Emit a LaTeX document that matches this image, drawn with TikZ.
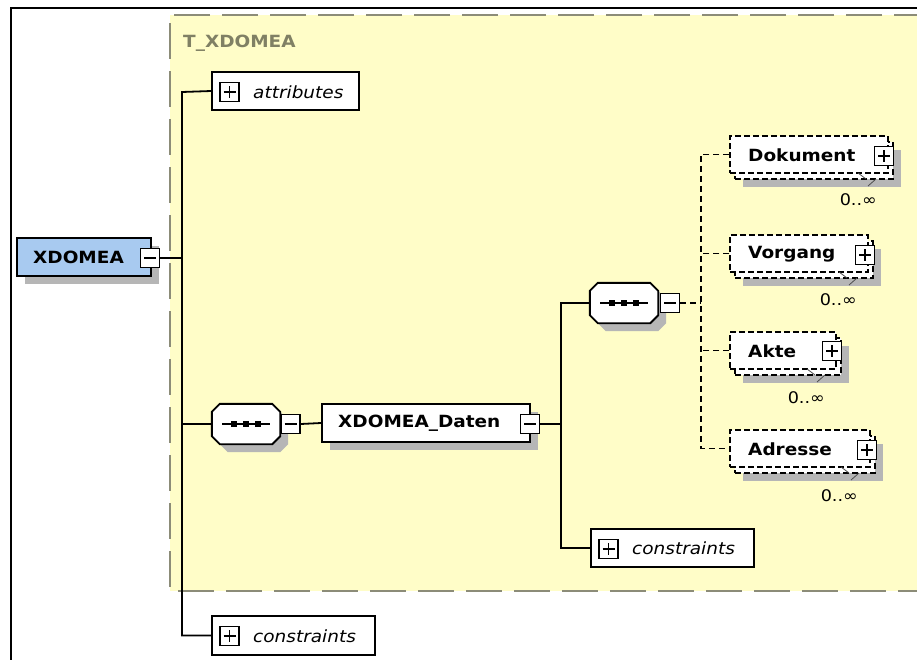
\documentclass[tikz,border=0pt]{standalone}
\usepackage{fontspec}
\newfontfamily\lab[FakeStretch=1.1]{DejaVu Sans}
\usetikzlibrary{calc,shadows}
\definecolor{rootblue}{RGB}{168,202,240}
\definecolor{paleyellow}{RGB}{255,253,200}
\definecolor{typegray}{RGB}{128,128,100}
\definecolor{shadowgray}{RGB}{182,182,182}
\definecolor{bordergray}{RGB}{140,140,120}
\tikzset{
  box/.style={draw, line width=1.9pt, fill=white, inner sep=0pt},
  shad/.style={drop shadow={shadow xshift=8pt, shadow yshift=-8pt, fill=shadowgray, opacity=1}},
  pm/.style={draw, line width=1.4pt, fill=white, minimum width=19pt, minimum height=19pt, inner sep=0pt},
  conn/.style={line width=1.8pt},
  dconn/.style={line width=1.5pt, dash pattern=on 6pt off 4pt},
  elbox/.style={draw, line width=1.5pt, dash pattern=on 6pt off 3pt, fill=white, inner sep=0pt},
  blbl/.style={font=\lab\fontsize{16.8}{20}\selectfont\bfseries, inner sep=0pt, anchor=west},
  ilbl/.style={font=\lab\fontsize{16.8}{20}\selectfont\itshape, inner sep=0pt, anchor=west},
  occ/.style={font=\lab\fontsize{16}{19}\selectfont, inner sep=0pt, anchor=east},
  ghost/.style={inner sep=0pt, draw=none}
}
\newcommand\plusmark[1]{\draw[line width=1.4pt] ($(#1.center)+(-6,0)$) -- ($(#1.center)+(6,0)$) ($(#1.center)+(0,-6)$) -- ($(#1.center)+(0,6)$);}
\newcommand\minusmark[1]{\draw[line width=1.4pt] ($(#1.center)+(-6,0)$) -- ($(#1.center)+(6,0)$);}
\newcommand\octo[1]{\draw[line width=1.9pt, fill=white, shad] ($(#1.north west)+(8,0)$) -- ($(#1.north east)+(-8,0)$) -- ($(#1.north east)+(0,8)$) -- ($(#1.south east)+(0,-8)$) -- ($(#1.south east)+(-8,0)$) -- ($(#1.south west)+(8,0)$) -- ($(#1.south west)+(0,-8)$) -- ($(#1.north west)+(0,8)$) -- cycle;
  \draw[line width=1.5pt] ($(#1.center)+(-24,0)$) -- ($(#1.center)+(24,0)$);
  \foreach \dx in {-12,0,12} {\fill ($(#1.center)+(\dx-3,-3)$) rectangle ($(#1.center)+(\dx+3,3)$);}}
\newcommand\occtick[2]{\draw[line width=0.8pt, black!70] (#1-16,#2) -- (#1-8,#2+6) (#1-6,#2+13) -- (#1+2,#2+6);}
\begin{document}
\begin{tikzpicture}[x=1pt,y=-1pt]
\useasboundingbox (0,0) rectangle (917,659);
\fill[white] (0,0) rectangle (917,659);
% outer frame
\draw[line width=2.5pt] (11,670) -- (11,8) -- (930,8);
% type region
\fill[paleyellow] (170,15) rectangle (930,591);
\draw[bordergray, line width=2pt, dash pattern=on 36pt off 12pt] (930,15) -- (170,15) -- (170,591) -- (930,591);
\node[blbl, text=typegray] (tname) at (183,43) {T\_XDOMEA};

% root element
\node[box, fill=rootblue, shad, minimum width=134pt, minimum height=38pt] (xd) at (84,257) {};
\node[blbl] (xdT) at (33,257) {XDOMEA};
\node[pm] (xdM) at (150,258) {};
\minusmark{xdM}

% attributes
\node[box, minimum width=147pt, minimum height=38pt] (attr) at (285.5,91) {};
\node[pm] (attrP) at (229.5,92) {};
\plusmark{attrP}
\node[ilbl] (attrT) at (253,92) {attributes};

% constraints (outer)
\node[box, minimum width=163pt, minimum height=39pt] (cons1) at (293.5,635.5) {};
\node[pm] (cons1P) at (229.5,636) {};
\plusmark{cons1P}
\node[ilbl] (cons1T) at (253,636) {constraints};

% sequence 1
\node[ghost, minimum width=68pt, minimum height=40pt] (s1) at (246,424) {};
\octo{s1}
\node[pm] (s1M) at (290.5,424) {};
\minusmark{s1M}

% XDOMEA_Daten
\node[box, shad, minimum width=208pt, minimum height=38pt] (dat) at (426,423) {};
\node[blbl] (datT) at (338,423) {XDOMEA\_Daten};
\node[pm] (datM) at (530,424) {};
\minusmark{datM}

% trunk connectors
\coordinate (tA) at (182,92);
\draw[conn] (xdM.east) -- (xdM.east -| tA);
\draw[conn] (attr.west) -- (tA) -- (tA |- cons1.west) -- (cons1.west);
\draw[conn] (s1.west) -- (s1.west -| tA);
\draw[conn] (s1M.east) -- (dat.west);

% sequence 2
\node[ghost, minimum width=68pt, minimum height=40pt] (s2) at (624,303) {};
\octo{s2}
\node[pm] (s2M) at (670,303) {};
\minusmark{s2M}

% constraints (inner)
\node[box, minimum width=163pt, minimum height=38pt] (cons2) at (672.5,548) {};
\node[pm] (cons2P) at (608.5,549) {};
\plusmark{cons2P}
\node[ilbl] (cons2T) at (632,548) {constraints};

\coordinate (tB) at (561,303);
\draw[conn] (datM.east) -- (datM.east -| tB);
\draw[conn] (s2.west) -- (tB) -- (tB |- cons2.west) -- (cons2.west);

% elements
% Dokument
\node[elbox, shad, minimum width=158pt, minimum height=37pt] (dokB) at (814,160.5) {};
\node[elbox, minimum width=158pt, minimum height=37pt] (dok) at (809,154.5) {};
\node[blbl] (dokT) at (748,155) {Dokument};
\node[pm] (dokP) at (884,156) {};
\plusmark{dokP}
\occtick{874}{173}
\node[occ] (dokO) at (877,200) {0..∞};
% Vorgang
\node[elbox, shad, minimum width=138pt, minimum height=37pt] (vorB) at (804,259.5) {};
\node[elbox, minimum width=138pt, minimum height=37pt] (vor) at (799,253.5) {};
\node[blbl] (vorT) at (748,254) {Vorgang};
\node[pm] (vorP) at (865,255) {};
\plusmark{vorP}
\occtick{855}{272}
\node[occ] (vorO) at (857,300) {0..∞};
% Akte
\node[elbox, shad, minimum width=106pt, minimum height=37pt] (akB) at (788,356.5) {};
\node[elbox, minimum width=106pt, minimum height=37pt] (ak) at (783,350.5) {};
\node[blbl] (akT) at (748,351) {Akte};
\node[pm] (akP) at (832,351) {};
\plusmark{akP}
\occtick{823}{369}
\node[occ] (akO) at (825,398) {0..∞};
% Adresse
\node[elbox, shad, minimum width=140pt, minimum height=37pt] (adB) at (805,454.5) {};
\node[elbox, minimum width=140pt, minimum height=37pt] (ad) at (800,448.5) {};
\node[blbl] (adT) at (748,449) {Adresse};
\node[pm] (adP) at (867,450) {};
\plusmark{adP}
\occtick{857}{467}
\node[occ] (adO) at (858,496) {0..∞};

% dashed choice connectors
\coordinate (tC) at (701,303);
\draw[dconn] (s2M.east) -- (tC);
\draw[dconn] (dok.west) -- (dok.west -| tC) -- (tC |- ad.west) -- (ad.west);
\draw[dconn] (vor.west) -- (vor.west -| tC);
\draw[dconn] (ak.west) -- (ak.west -| tC);
\end{tikzpicture}
\end{document}
